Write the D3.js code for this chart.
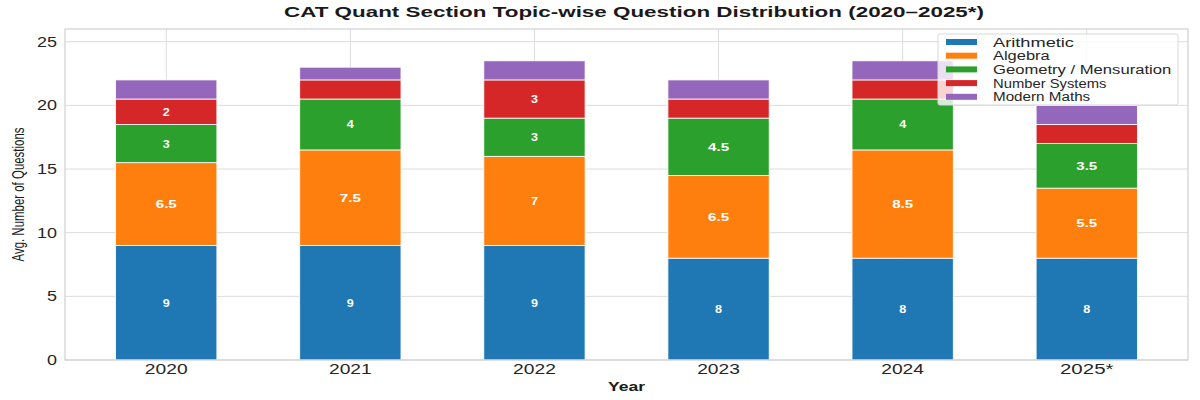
<!DOCTYPE html>
<html>
<head>
<meta charset="utf-8">
<script src="https://cdn.jsdelivr.net/npm/d3@7"></script>
<style>
  body { margin: 0; background: #fff; }
  text { font-family: "Liberation Sans", "DejaVu Sans", sans-serif; }
</style>
</head>
<body>
<svg id="chart" width="1200" height="400"></svg>
<script>
// data
const years = ["2020", "2021", "2022", "2023", "2024", "2025*"];
const topics = ["Arithmetic", "Algebra", "Geometry / Mensuration", "Number Systems", "Modern Maths"];
const arithmetic = [9, 9, 9, 8, 8, 8];
const algebra = [6.5, 7.5, 7, 6.5, 8.5, 5.5];
const geometry = [3, 4, 3, 4.5, 4, 3.5];
const numberSystems = [2, 1.5, 3, 1.5, 1.5, 1.5];
const modernMaths = [1.5, 1, 1.5, 1.5, 1.5, 1.5];
const yTicks = [0, 5, 10, 15, 20, 25];

const colors = ["#1f77b4", "#ff7f0e", "#2ca02c", "#d62728", "#9467bd"];
const seriesValues = [arithmetic, algebra, geometry, numberSystems, modernMaths];

const rows = years.map(function(y, i) {
  const r = { year: y, idx: i };
  topics.forEach(function(t, k) { r[t] = seriesValues[k][i]; });
  return r;
});

const svg = d3.select("#chart");
const plotL = 65, plotR = 1188, plotT = 29, plotB = 360;

const x = d3.scaleLinear().domain([-0.55, 5.55]).range([plotL, plotR]);
const y = d3.scaleLinear().domain([0, 26]).range([plotB, plotT]);
const barW = x(0.55) - x(0);

// grid
svg.append("g")
  .selectAll("line.h")
  .data(yTicks)
  .enter()
  .append("line")
  .attr("x1", plotL).attr("x2", plotR)
  .attr("y1", d => y(d)).attr("y2", d => y(d))
  .attr("stroke", "#dcdcdc").attr("stroke-width", 1);

svg.append("g")
  .selectAll("line.v")
  .data(years)
  .enter()
  .append("line")
  .attr("x1", (d, i) => x(i)).attr("x2", (d, i) => x(i))
  .attr("y1", plotT).attr("y2", plotB)
  .attr("stroke", "#dcdcdc").attr("stroke-width", 1);

// stacked bars
const stack = d3.stack().keys(topics);
const layers = stack(rows);

const layerG = svg.append("g")
  .selectAll("g")
  .data(layers)
  .enter()
  .append("g")
  .attr("fill", (d, k) => colors[k]);

layerG.selectAll("rect")
  .data(d => d)
  .enter()
  .append("rect")
  .attr("x", d => x(d.data.idx) - barW / 2)
  .attr("width", barW)
  .attr("y", d => y(d[1]))
  .attr("height", d => y(d[0]) - y(d[1]))
  .attr("stroke", "#ffffff")
  .attr("stroke-width", 0.8);

// value labels (only shown for segments of 2 or more)
layerG.selectAll("text")
  .data(d => d.filter(s => s[1] - s[0] >= 2))
  .enter()
  .append("text")
  .attr("x", d => x(d.data.idx))
  .attr("y", d => y((d[0] + d[1]) / 2) + 4)
  .attr("text-anchor", "middle")
  .attr("fill", "#ffffff")
  .attr("font-size", 11)
  .attr("font-weight", "bold")
  .attr("textLength", d => d3.format("~g")(d[1] - d[0]).length * 7)
  .attr("lengthAdjust", "spacingAndGlyphs")
  .text(d => d3.format("~g")(d[1] - d[0]));

// frame
svg.append("rect")
  .attr("x", plotL).attr("y", plotT)
  .attr("width", plotR - plotL).attr("height", plotB - plotT)
  .attr("fill", "none")
  .attr("stroke", "#d0d0d0")
  .attr("stroke-width", 1.2);

// y tick labels
svg.append("g")
  .selectAll("text")
  .data(yTicks)
  .enter()
  .append("text")
  .attr("x", plotL - 8)
  .attr("y", d => y(d) + 5)
  .attr("text-anchor", "end")
  .attr("font-size", 14)
  .attr("fill", "#262626")
  .attr("textLength", d => String(d).length * 10)
  .attr("lengthAdjust", "spacingAndGlyphs")
  .text(d => d);

// x tick labels
svg.append("g")
  .selectAll("text")
  .data(years)
  .enter()
  .append("text")
  .attr("x", (d, i) => x(i))
  .attr("y", plotB + 14)
  .attr("text-anchor", "middle")
  .attr("font-size", 14)
  .attr("fill", "#262626")
  .attr("textLength", d => d.length * 10.7)
  .attr("lengthAdjust", "spacingAndGlyphs")
  .text(d => d);

// axis titles
svg.append("text")
  .attr("x", (plotL + plotR) / 2)
  .attr("y", 391)
  .attr("text-anchor", "middle")
  .attr("font-size", 13)
  .attr("font-weight", "bold")
  .attr("fill", "#1a1a1a")
  .attr("textLength", 37)
  .attr("lengthAdjust", "spacingAndGlyphs")
  .text("Year");

svg.append("text")
  .attr("transform", "translate(24," + (plotT + plotB) / 2 + ") rotate(-90)")
  .attr("text-anchor", "middle")
  .attr("font-size", 17)
  .attr("fill", "#1a1a1a")
  .attr("textLength", 134)
  .attr("lengthAdjust", "spacingAndGlyphs")
  .text("Avg. Number of Questions");

// title
svg.append("text")
  .attr("x", 634)
  .attr("y", 17)
  .attr("text-anchor", "middle")
  .attr("font-size", 15)
  .attr("font-weight", "bold")
  .attr("fill", "#1a1a1a")
  .attr("textLength", 700)
  .attr("lengthAdjust", "spacingAndGlyphs")
  .text("CAT Quant Section Topic-wise Question Distribution (2020\u20132025*)");

// legend
const legend = svg.append("g").attr("transform", "translate(938,34)");
legend.append("rect")
  .attr("width", 240).attr("height", 71)
  .attr("rx", 2)
  .attr("fill", "#ffffff").attr("fill-opacity", 0.8)
  .attr("stroke", "#d8d8d8");

const item = legend.selectAll("g.item")
  .data(topics)
  .enter()
  .append("g")
  .attr("transform", (d, i) => "translate(8," + (5 + i * 13.7) + ")");

item.append("rect")
  .attr("width", 31).attr("height", 6)
  .attr("fill", (d, i) => colors[i]);

item.append("text")
  .attr("x", 47)
  .attr("y", 7.5)
  .attr("font-size", 12.5)
  .attr("fill", "#262626")
  .attr("textLength", d => d.length * 8.1)
  .attr("lengthAdjust", "spacingAndGlyphs")
  .text(d => d);
</script>
</body>
</html>
